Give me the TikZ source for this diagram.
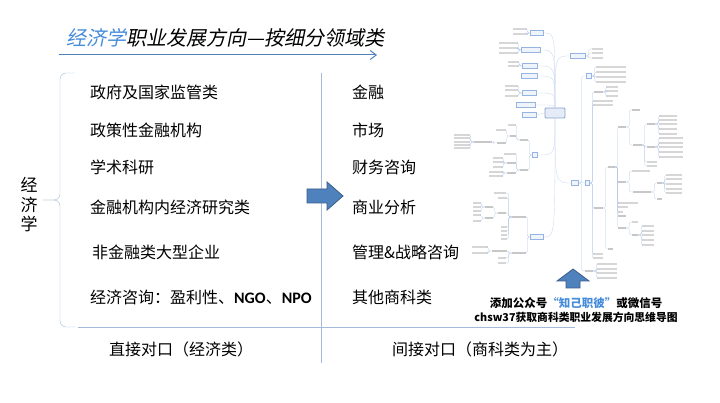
\documentclass[tikz,border=0pt]{standalone}
\usepackage{fontspec}
\setmainfont{Noto Sans CJK SC}
\newfontfamily\titlefont{Noto Sans CJK SC}[FakeSlant=0.2]
\newfontfamily\latinfont{Carlito}
\usetikzlibrary{calc}
\usetikzlibrary{arrows.meta}

\definecolor{arrowblue}{RGB}{79,129,189}
\definecolor{arrowedge}{RGB}{56,93,138}
\definecolor{titleblue}{RGB}{70,140,218}
\definecolor{rulegray}{RGB}{165,185,218}
\definecolor{mmblue}{RGB}{150,180,225}

\tikzset{
  item/.style={anchor=west, inner sep=0, font=\fontsize{16}{19}\selectfont},
  caption/.style={inner sep=0, font=\fontsize{11.5}{14}\selectfont\bfseries},
  mmroot/.style={draw=mmblue!90!black, fill=mmblue!25, line width=0.8pt, rounded corners=1pt, minimum width=20, minimum height=10, inner sep=0},
  mmmain/.style={draw=mmblue, fill=mmblue!15, line width=0.35pt, minimum height=5, inner sep=0},
  mmsub/.style={fill=black!22, minimum height=1.5, inner sep=0},
  mmleaf/.style={fill=black!16, minimum height=1.2, inner sep=0},
  mmcurve/.style={draw=mmblue!55, line width=0.3pt},
  rlink/.style={draw=mmblue!75, line width=0.25pt, rounded corners=1.5, to path={-- ++(3,0) |- (\tikztotarget)}},
  llink/.style={draw=mmblue!75, line width=0.25pt, rounded corners=1.5, to path={-- ++(-3,0) |- (\tikztotarget)}}
}
\newcommand\mmright[4]{\foreach \yy [count=\ii] in {#4}{\node[mmleaf, minimum width=#3, anchor=west] (#1-\ii) at (#2,\yy) {}; \draw[rlink] (#1.east) to (#1-\ii.west);}}
\newcommand\mmleft[4]{\foreach \yy [count=\ii] in {#4}{\node[mmleaf, minimum width=#3, anchor=east] (#1-\ii) at (#2,\yy) {}; \draw[llink] (#1.west) to (#1-\ii.east);}}

\begin{document}
\begin{tikzpicture}[x=1pt,y=-1pt]
	\fill[white] (0,0) rectangle (720,403);
	\useasboundingbox (0,0) rectangle (720,403);

	\node[anchor=west, inner sep=0] (title) at (66,38) {\titlefont\fontsize{20}{24}\selectfont\textcolor{titleblue}{经济学}职业发展方向—按细分领域类};
	\draw[arrowblue, line width=1pt, -{Straight Barb[length=6pt, width=9pt]}] (59,55) -- (377,55);

	\draw[rulegray, rounded corners=6pt] (75,73) -- (60,73) -- (60,200) -- (43,200);
	\draw[rulegray, rounded corners=6pt] (43,200) -- (60,200) -- (60,327) -- (75,327);
	\draw[rulegray] (78,327) -- (575,327);
	\draw[rulegray] (321,73) -- (321,363);
	\node[align=center, inner sep=0, font=\fontsize{17}{19.5}\selectfont] (econ) at (29,205) {经\\济\\学};

	\node[item] (gov) at (90,92) {政府及国家监管类};
	\node[item] (policy) at (90,130) {政策性金融机构};
	\node[item] (academic) at (90,167) {学术科研};
	\node[item] (research) at (90,207) {金融机构内经济研究类};
	\node[item] (corporate) at (92,252) {非金融类大型企业};
	\node[item] (consult) at (90,297) {经济咨询：盈利性、{\latinfont\bfseries NGO}、{\latinfont\bfseries NPO}};

	\node[item] (finance) at (352,92) {金融};
	\node[item] (market) at (352,130) {市场};
	\node[item] (advisory) at (352,167) {财务咨询};
	\node[item] (analytics) at (352,207) {商业分析};
	\node[item] (strategy) at (352,252) {管理\&战略咨询};
	\node[item] (others) at (352,297) {其他商科类};

	\node[item, anchor=center] (direct) at (181,349) {直接对口（经济类）};
	\node[item, anchor=center] (indirect) at (480,349) {间接对口（商科类为主）};

	\draw[fill=arrowblue, draw=arrowedge, line width=0.8pt] (307,189) -- (327,189) -- (327,182) -- (343,196) -- (327,210) -- (327,203) -- (307,203) -- cycle;
	\draw[fill=arrowblue, draw=arrowedge, line width=0.8pt] (566,288) -- (566,281) -- (557,281) -- (573,269) -- (589,281) -- (580,281) -- (580,288) -- cycle;

	\node[caption] (wechat) at (576,303) {添加公众号\textcolor{titleblue}{“知己职彼”}或微信号};
	\node[caption, font=\fontsize{10.8}{13}\selectfont\bfseries] (mindmap) at (576,317) {chsw37获取商科类职业发展方向思维导图};

	\node[mmroot] (root) at (555,113) {};
	\node[mmmain, minimum width=13] (la) at (537,33) {};
	\node[mmmain, minimum width=19] (lb) at (531,50) {};
	\node[mmmain, minimum width=15] (lc) at (530,66) {};
	\node[mmmain, minimum width=16] (ld) at (529,76) {};
	\node[mmmain, minimum width=14] (le) at (529,93) {};
	\node[mmmain, minimum width=19] (lf) at (526,105) {};
	\node[mmmain, minimum width=14] (lg) at (529,115) {};
	\node[mmmain, minimum width=5] (ln) at (535,155) {};
	\node[mmmain, minimum width=13] (lm) at (537,237) {};
	\node[mmmain, minimum width=15] (rt) at (578,56) {};
	\node[mmmain, minimum width=7] (job) at (575,183) {};
	\foreach \nd in {la,lb,lc,ld,le,lf}
		\draw[mmcurve] (root.north) .. controls (root.north |- \nd.east) .. (\nd.east);
	\draw[mmcurve] (root.west) -- (lg.east);
	\draw[mmcurve] (root.north) .. controls (root.north |- rt.west) .. (rt.west);
	\foreach \nd in {ln,lm}
		\draw[mmcurve] (root.south) .. controls (root.south |- \nd.east) .. (\nd.east);
	\draw[mmcurve] (root.south) .. controls (root.south |- job.west) .. (job.west);

	\mmleft{la}{527}{14}{29,34}
	\mmleft{lb}{518}{19}{43,48,53}
	\mmleft{lc}{519}{11}{62,66}
	\mmleft{le}{518}{13}{86,90,96}
	\mmright{rt}{592}{11}{49,53,58}

	\node[mmmain, minimum width=4] (jobsub) at (587,183) {};
	\node[mmmain, minimum width=5] (pa) at (589,76) {};
	\node[mmsub, minimum width=8] (pf) at (589,271) {};
	\foreach \nd in {jobsub,pa,pf}
		\draw[rlink] (job.east) to (\nd.west);
	\mmright{pa}{596}{30}{67,72,77,82}
	\mmright{pf}{597}{20}{264,269,273,278}
	\node[mmsub, minimum width=9] (pb) at (598,92) {};
	\node[mmsub, minimum width=9] (pc) at (598,208) {};
	\node[mmleaf, minimum width=10] (pd) at (598,254) {};
	\node[mmleaf, minimum width=10] (pe) at (598,258) {};
	\node[mmleaf, minimum width=20] (pg) at (603,101) {};
	\node[mmleaf, minimum width=20] (ph) at (603,105) {};
	\foreach \nd in {pb,pg,ph,pc,pd,pe}
		\draw[rlink] (jobsub.east) to (\nd.west);
	\mmright{pb}{606}{12}{87,91,96}

	\node[mmsub, minimum width=7] (ra) at (611,167) {};
	\node[mmsub, minimum width=5] (rg) at (610,249) {};
	\draw[rlink] (pc.east) to (ra.west);
	\draw[rlink] (pc.east) to (rg.west);
	\node[mmsub, minimum width=8] (sa) at (622,127) {};
	\node[mmsub, minimum width=8] (sb) at (622,182) {};
	\node[mmleaf, minimum width=20] (rb) at (628,203) {};
	\node[mmleaf, minimum width=10] (rc) at (623,207) {};
	\node[mmleaf, minimum width=5] (rd) at (620.5,212) {};
	\node[mmsub, minimum width=8] (re) at (622,216) {};
	\node[mmsub, minimum width=8] (rf) at (622,228) {};
	\foreach \nd in {sa,sb,rb,rc,rd,re,rf}
		\draw[rlink] (ra.east) to (\nd.west);
	\node[mmsub, minimum width=8] (ta) at (636,110) {};
	\node[mmsub, minimum width=9] (tb) at (637,145) {};
	\draw[rlink] (sa.east) to (ta.west);
	\draw[rlink] (sa.east) to (tb.west);
	\node[mmsub, minimum width=8] (ua) at (651,124) {};
	\node[mmsub, minimum width=8] (ub) at (651,147) {};
	\node[mmleaf, minimum width=10] (uc) at (652,162) {};
	\node[mmleaf, minimum width=10] (ud) at (652,166) {};
	\foreach \nd in {ua,ub,uc,ud}
		\draw[rlink] (tb.east) to (\nd.west);
	\mmright{ua}{659}{18}{116,120,124,129,134}
	\mmright{ub}{659}{24}{138,143,147,152,157}
	\node[mmleaf, minimum width=18] (tc) at (641,171) {};
	\node[mmsub, minimum width=18] (td) at (642,192) {};
	\draw[rlink] (sb.east) to (tc.west);
	\draw[rlink] (sb.east) to (td.west);
	\node[mmsub, minimum width=5] (ue) at (659,183) {};
	\node[mmsub, minimum width=5] (uf) at (659,199) {};
	\draw[rlink] (td.east) to (ue.west);
	\draw[rlink] (td.east) to (uf.west);
	\mmright{ue}{666}{16}{175,179,184,189,193}
	\node[mmleaf, minimum width=6] (te) at (635,222) {};
	\node[mmsub, minimum width=6] (tf) at (635,235) {};
	\draw[rlink] (rf.east) to (te.west);
	\draw[rlink] (rf.east) to (tf.west);
	\mmright{tf}{642}{12}{226,231,235,240,245}

	\node[mmsub, minimum width=14] (va) at (519,217) {};
	\node[mmsub, minimum width=14] (vb) at (519,253) {};
	\draw[llink] (lm.west) to (va.east);
	\draw[llink] (lm.west) to (vb.east);
	\node[mmleaf, minimum width=12] (wa) at (500,193) {};
	\node[mmleaf, minimum width=9] (wb) at (502,198) {};
	\node[mmsub, minimum width=8] (wc) at (502,213) {};
	\foreach \nd in {wa,wb,wc}
		\draw[llink] (va.west) to (\nd.east);
	\mmleft{va}{507}{6}{227,231,235,239}
	\node[mmsub, minimum width=8] (xa) at (489,207) {};
	\node[mmsub, minimum width=8] (xb) at (489,218) {};
	\draw[llink] (wc.west) to (xa.east);
	\draw[llink] (wc.west) to (xb.east);
	\mmleft{xa}{481}{8}{203,207,211}
	\mmleft{xb}{481}{8}{215,221}
	\node[mmsub, minimum width=15] (wf) at (499,251) {};
	\node[mmleaf, minimum width=8] (wg) at (502,258) {};
	\node[mmleaf, minimum width=8] (wh) at (502,263) {};
	\foreach \nd in {wf,wg,wh}
		\draw[llink] (vb.west) to (\nd.east);
	\mmleft{wf}{488}{16}{247,253}

	\node[mmsub, minimum width=8] (ya) at (524,140) {};
	\node[mmsub, minimum width=8] (yb) at (524,170) {};
	\draw[llink] (ln.west) to (ya.east);
	\draw[llink] (ln.west) to (yb.east);
	\node[mmleaf, minimum width=8] (za) at (512,125) {};
	\node[mmsub, minimum width=6] (zb) at (513,136) {};
	\draw[llink] (ya.west) to (za.east);
	\draw[llink] (ya.west) to (zb.east);
	\node[mmleaf, minimum width=10] (zc) at (501,130) {};
	\node[mmsub, minimum width=9] (zd) at (501,143) {};
	\draw[llink] (zb.west) to (zc.east);
	\draw[llink] (zb.west) to (zd.east);
	\node[mmsub, minimum width=18] (ze) at (483,142) {};
	\draw[llink] (zd.west) to (ze.east);
	\mmleft{ze}{470}{16}{135,138,142,145,148}
	\node[mmleaf, minimum width=12] (yc) at (510,154) {};
	\node[mmsub, minimum width=9] (yd) at (511,163) {};
	\node[mmsub, minimum width=9] (ye) at (511,173) {};
	\foreach \nd in {yc,yd,ye}
		\draw[llink] (yb.west) to (\nd.east);
	\mmleft{yd}{503}{10}{158,162,167}
	\mmleft{ye}{503}{14}{172,176}
\end{tikzpicture}
\end{document}
